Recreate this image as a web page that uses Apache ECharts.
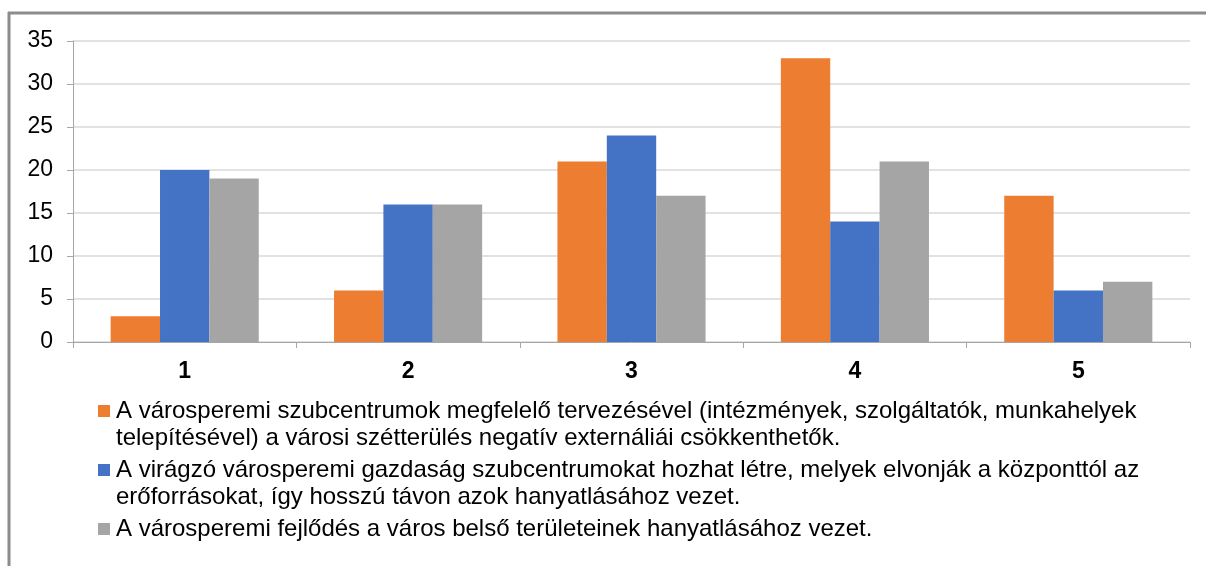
<!DOCTYPE html>
<html>
<head>
<meta charset="utf-8">
<script src="https://cdn.jsdelivr.net/npm/echarts@6/dist/echarts.min.js"></script>
<style>
html, body { margin: 0; padding: 0; background: #fff; }
#main { width: 1206px; height: 566px; }
</style>
</head>
<body>
<div id="main"></div>
<script>
var categories = ['1', '2', '3', '4', '5'];
var yTicks = [0, 5, 10, 15, 20, 25, 30, 35];

var values1 = [3, 6, 21, 33, 17];
var values2 = [20, 16, 24, 14, 6];
var values3 = [19, 16, 17, 21, 7];

var legendLines1 = [
    'A városperemi szubcentrumok megfelelő tervezésével (intézmények, szolgáltatók, munkahelyek',
    'telepítésével) a városi szétterülés negatív externáliái csökkenthetők.'
];
var legendLines2 = [
    'A virágzó városperemi gazdaság szubcentrumokat hozhat létre, melyek elvonják a központtól az',
    'erőforrásokat, így hosszú távon azok hanyatlásához vezet.'
];
var legendLines3 = [
    'A városperemi fejlődés a város belső területeinek hanyatlásához vezet.'
];

var colors = ['#ED7D31', '#4472C4', '#A5A5A5'];
var allLines = [legendLines1, legendLines2, legendLines3];
var names = allLines.map(function (l) { return l.join(' '); });

var font = 'Liberation Sans, Arial, sans-serif';

var rich = {
    gap: { width: 6 },
    ind: { width: 18 },
    t: { fontSize: 24, lineHeight: 27, color: '#000', fontFamily: font }
};
colors.forEach(function (c, i) {
    rich['sq' + i] = { width: 12, height: 12, backgroundColor: c };
});

var chart = echarts.init(document.getElementById('main'));
var option = {
    animation: false,
    backgroundColor: '#fff',
    grid: { left: 73, right: 16, top: 41, bottom: 224 },
    legend: {
        orient: 'vertical',
        left: 88,
        top: 394,
        itemGap: 8,
        itemWidth: 0,
        itemHeight: 0,
        selectedMode: false,
        data: names,
        textStyle: { fontSize: 24, fontFamily: font, rich: rich },
        formatter: function (name) {
            var i = names.indexOf(name);
            var lines = allLines[i];
            var s = '{sq' + i + '|}{gap|}{t|' + lines[0] + '}';
            for (var k = 1; k < lines.length; k++) {
                s += '\n{ind|}{t|' + lines[k] + '}';
            }
            return s;
        }
    },
    xAxis: {
        type: 'category',
        data: categories,
        axisLine: { lineStyle: { color: '#A6A6A6', width: 1 } },
        axisTick: { show: true, length: 6, lineStyle: { color: '#A6A6A6' } },
        axisLabel: { fontSize: 23, fontWeight: 'bold', color: '#000', fontFamily: font, margin: 18 }
    },
    yAxis: {
        type: 'value',
        min: yTicks[0],
        max: yTicks[yTicks.length - 1],
        interval: 5,
        axisLine: { show: true, lineStyle: { color: '#A6A6A6' } },
        axisTick: { show: true, length: 6, lineStyle: { color: '#A6A6A6' } },
        axisLabel: { fontSize: 23, color: '#000', fontFamily: font, margin: 20 },
        splitLine: { lineStyle: { color: '#D9D9D9', width: 1.5 } }
    },
    series: [
        { name: names[0], type: 'bar', data: values1, itemStyle: { color: colors[0] }, barGap: '0%', barCategoryGap: '33.7%' },
        { name: names[1], type: 'bar', data: values2, itemStyle: { color: colors[1] } },
        { name: names[2], type: 'bar', data: values3, itemStyle: { color: colors[2] } }
    ],
    graphic: [
        { type: 'line', shape: { x1: 8, y1: 13, x2: 1206, y2: 13 }, style: { stroke: '#8C8C8C', lineWidth: 3 } },
        { type: 'line', shape: { x1: 9, y1: 12, x2: 9, y2: 566 }, style: { stroke: '#8C8C8C', lineWidth: 3 } }
    ]
};
chart.setOption(option);
</script>
</body>
</html>
